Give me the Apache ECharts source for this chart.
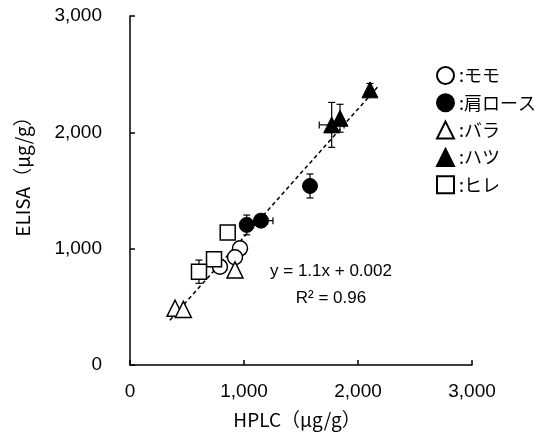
<!DOCTYPE html>
<html>
<head>
<meta charset="utf-8">
<script src="https://cdn.jsdelivr.net/npm/echarts@6/dist/echarts.min.js"></script>
<style>html,body{margin:0;padding:0;background:#fff;}#c{width:550px;height:432px;}</style>
</head>
<body>
<div id="c"></div>
<script>
const categories = ['モモ', '肩ロース', 'バラ', 'ハツ', 'ヒレ'];
const xTickLabels = ['0', '1,000', '2,000', '3,000'];
const yTickLabels = ['0', '1,000', '2,000', '3,000'];

const momoX = [965, 921, 789];
const momoY = [1003, 926, 845];
const momoXErr = [0, 0, 0];
const momoYErr = [0, 0, 0];

const kataX = [1024, 1149, 1579];
const kataY = [1204, 1241, 1539];
const kataXErr = [0, 105, 0];
const kataYErr = [85, 0, 103];

const baraX = [921, 395, 468];
const baraY = [817, 488, 478];
const baraXErr = [0, 0, 0];
const baraYErr = [0, 0, 0];

const hatsuX = [2105, 1769, 1842];
const hatsuY = [2365, 2064, 2121];
const hatsuXErr = [0, 109, 0];
const hatsuYErr = [55, 193, 120];

const hireX = [857, 737, 605];
const hireY = [1138, 909, 802];
const hireXErr = [0, 0, 0];
const hireYErr = [0, 60, 100];

const trendX = [350, 2175];
const trendY = [385, 2393];

const FONT = '"Liberation Sans", "Noto Sans CJK JP", sans-serif';
const JFONT = '"Noto Sans CJK JP", "Liberation Sans", sans-serif';

function pts(X, Y) { return X.map((x, i) => [x, Y[i]]); }
function errs(X, Y, XE, YE) { return X.map((x, i) => [x, Y[i], XE[i], YE[i]]); }

function renderErr(params, api) {
  const x = api.value(0), y = api.value(1), xe = api.value(2), ye = api.value(3);
  const children = [];
  const cap = 3.5;
  const st = { stroke: '#000', lineWidth: 1.2 };
  if (ye > 0) {
    const a = api.coord([x, y - ye]), b = api.coord([x, y + ye]);
    children.push({ type: 'line', shape: { x1: a[0], y1: a[1], x2: b[0], y2: b[1] }, style: st });
    children.push({ type: 'line', shape: { x1: a[0] - cap, y1: a[1], x2: a[0] + cap, y2: a[1] }, style: st });
    children.push({ type: 'line', shape: { x1: b[0] - cap, y1: b[1], x2: b[0] + cap, y2: b[1] }, style: st });
  }
  if (xe > 0) {
    const a = api.coord([x - xe, y]), b = api.coord([x + xe, y]);
    children.push({ type: 'line', shape: { x1: a[0], y1: a[1], x2: b[0], y2: b[1] }, style: st });
    children.push({ type: 'line', shape: { x1: a[0], y1: a[1] - cap, x2: a[0], y2: a[1] + cap }, style: st });
    children.push({ type: 'line', shape: { x1: b[0], y1: b[1] - cap, x2: b[0], y2: b[1] + cap }, style: st });
  }
  return { type: 'group', children: children };
}

function errSeries(data) {
  return { type: 'custom', name: 'err', renderItem: renderErr, data: data, z: 1, silent: true,
    encode: { x: 0, y: 1 } };
}

const openStyle = { color: '#fff', borderColor: '#000', borderWidth: 1.5, opacity: 1 };
const fillStyle = { color: '#000', borderColor: '#000', borderWidth: 1, opacity: 1 };

const chart = echarts.init(document.getElementById('c'), null, { renderer: 'canvas' });
chart.setOption({
  animation: false,
  backgroundColor: '#fff',
  grid: { left: 130, top: 16, right: 78, bottom: 67, containLabel: false },
  xAxis: {
    type: 'value', min: 0, max: 3000, interval: 1000,
    axisLine: { show: true, lineStyle: { color: '#000', width: 1.5 } },
    axisTick: { show: true, inside: true, length: 5, lineStyle: { color: '#000', width: 1.5 } },
    splitLine: { show: false },
    axisLabel: { margin: 17, color: '#000', fontSize: 19, fontFamily: FONT,
      formatter: (v) => xTickLabels[Math.round(v / 1000)] }
  },
  yAxis: {
    type: 'value', min: 0, max: 3000, interval: 1000,
    axisLine: { show: true, lineStyle: { color: '#000', width: 1.5 } },
    axisTick: { show: true, inside: true, length: 5, lineStyle: { color: '#000', width: 1.5 } },
    splitLine: { show: false },
    axisLabel: { margin: 28, color: '#000', fontSize: 19, fontFamily: FONT,
      formatter: (v) => yTickLabels[Math.round(v / 1000)] }
  },
  legend: {
    data: categories, orient: 'vertical', left: 431, top: 61,
    itemWidth: 17, itemHeight: 17, itemGap: 8.3,
    textStyle: { color: '#000', fontSize: 18, fontFamily: JFONT, lineHeight: 17, padding: [0, 0, 0, 0] },
    formatter: (n) => ':' + n,
    selectedMode: false
  },
  graphic: [
    { type: 'text', x: 23, y: 172, rotation: Math.PI / 2,
      style: { text: 'ELISA（μg/g）', fontSize: 19, fontFamily: JFONT, fill: '#000', textAlign: 'center', textVerticalAlign: 'middle' } },
    { type: 'text', x: 297, y: 420,
      style: { text: 'HPLC（μg/g）', fontSize: 19, fontFamily: JFONT, fill: '#000', textAlign: 'center', textVerticalAlign: 'middle' } },
    { type: 'text', x: 331, y: 271,
      style: { text: 'y = 1.1x + 0.002', fontSize: 17, fontFamily: FONT, fill: '#000', textAlign: 'center', textVerticalAlign: 'middle' } },
    { type: 'text', x: 331, y: 298,
      style: { text: 'R² = 0.96', fontSize: 17, fontFamily: FONT, fill: '#000', textAlign: 'center', textVerticalAlign: 'middle' } }
  ],
  series: [
    { type: 'line', name: 'trend', data: pts(trendX, trendY), symbol: 'none', z: 1,
      lineStyle: { color: '#000', width: 1.5, type: [4, 3] } },
    errSeries(errs(momoX, momoY, momoXErr, momoYErr)),
    errSeries(errs(kataX, kataY, kataXErr, kataYErr)),
    errSeries(errs(baraX, baraY, baraXErr, baraYErr)),
    errSeries(errs(hatsuX, hatsuY, hatsuXErr, hatsuYErr)),
    errSeries(errs(hireX, hireY, hireXErr, hireYErr)),
    { type: 'scatter', name: categories[0], data: pts(momoX, momoY), symbol: 'circle', symbolSize: 15, itemStyle: openStyle, z: 3 },
    { type: 'scatter', name: categories[1], data: pts(kataX, kataY), symbol: 'circle', symbolSize: 15, itemStyle: fillStyle, z: 3 },
    { type: 'scatter', name: categories[2], data: pts(baraX, baraY), symbol: 'triangle', symbolSize: 16, itemStyle: openStyle, z: 3 },
    { type: 'scatter', name: categories[3], data: pts(hatsuX, hatsuY), symbol: 'triangle', symbolSize: 16, itemStyle: fillStyle, z: 3 },
    { type: 'scatter', name: categories[4], data: pts(hireX, hireY), symbol: 'rect', symbolSize: 15, itemStyle: openStyle, z: 3 }
  ]
});
</script>
</body>
</html>
